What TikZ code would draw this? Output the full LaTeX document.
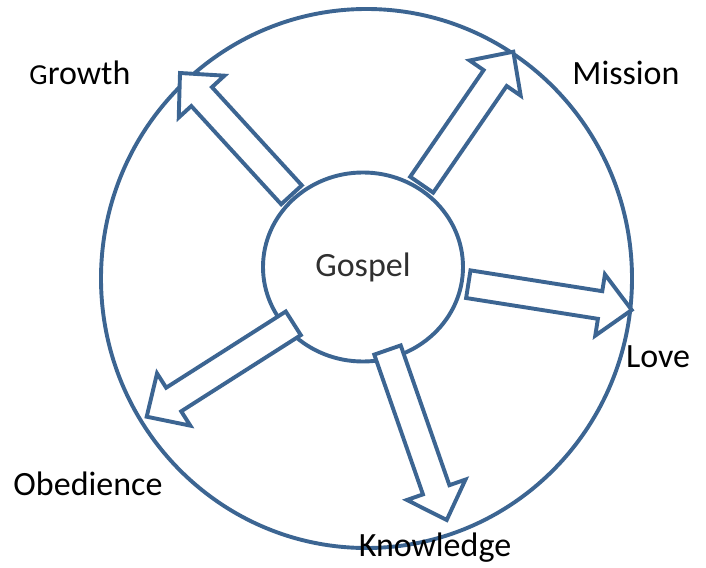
\documentclass[tikz,border=0pt]{standalone}
\usepackage{fontspec}
\setmainfont{Carlito}
\usetikzlibrary{calc,shapes.geometric}
\definecolor{ringblue}{HTML}{3C6592}
\definecolor{gospelgray}{HTML}{303030}
\tikzset{
  ring/.style={draw=ringblue, line width=3.9pt, fill=none},
  arrowline/.style={draw=ringblue, line width=3.9pt, fill=white, line join=miter},
  lbl/.style={font=\fontsize{34}{40}\selectfont, text=black, inner sep=0pt},
}
\newcommand\blockarr[3]{%
  \coordinate (#1-t) at #2;
  \coordinate (#1-h) at #3;
  \coordinate (#1-b) at ($(#1-h)!32pt!(#1-t)$);
  \draw[arrowline] ($(#1-t)!14pt!90:(#1-h)$) -- ($(#1-b)!14pt!-90:(#1-t)$)
    -- ($(#1-b)!31pt!-90:(#1-t)$) -- (#1-h) -- ($(#1-b)!31pt!90:(#1-t)$)
    -- ($(#1-b)!14pt!90:(#1-t)$) -- ($(#1-t)!14pt!-90:(#1-h)$) -- cycle;}
\begin{document}
\begin{tikzpicture}[x=1pt,y=-1pt]
\useasboundingbox (0,0) rectangle (706,567);
\node[ring, ellipse, minimum width=531pt, minimum height=539pt, inner sep=0pt] (outer) at (366.5,278.5) {};
\node[ring, ellipse, minimum width=200pt, minimum height=189pt, inner sep=0pt,
      font=\fontsize{34}{40}\selectfont, text=gospelgray] (gospel) at (363,267) {Gospel};
\blockarr{growth}{(291.5,194.8)}{(180,73)}
\blockarr{mission}{(421.7,184.7)}{(513.3,51.7)}
\blockarr{love}{(468.3,284.2)}{(631.7,310)}
\blockarr{obed}{(293.3,323.3)}{(146.7,416.7)}
\blockarr{know}{(387.5,350)}{(446.7,520)}
\node[lbl] (lgrowth) at (80,73) {{\fontsize{29}{34}\selectfont G}rowth};
\node[lbl] (lmission) at (626,73) {Mission};
\node[lbl] (llove) at (658,357) {Love};
\node[lbl] (lobed) at (88,484) {Obedience};
\node[lbl] (lknow) at (435,548) {Knowledge};
\end{tikzpicture}
\end{document}
